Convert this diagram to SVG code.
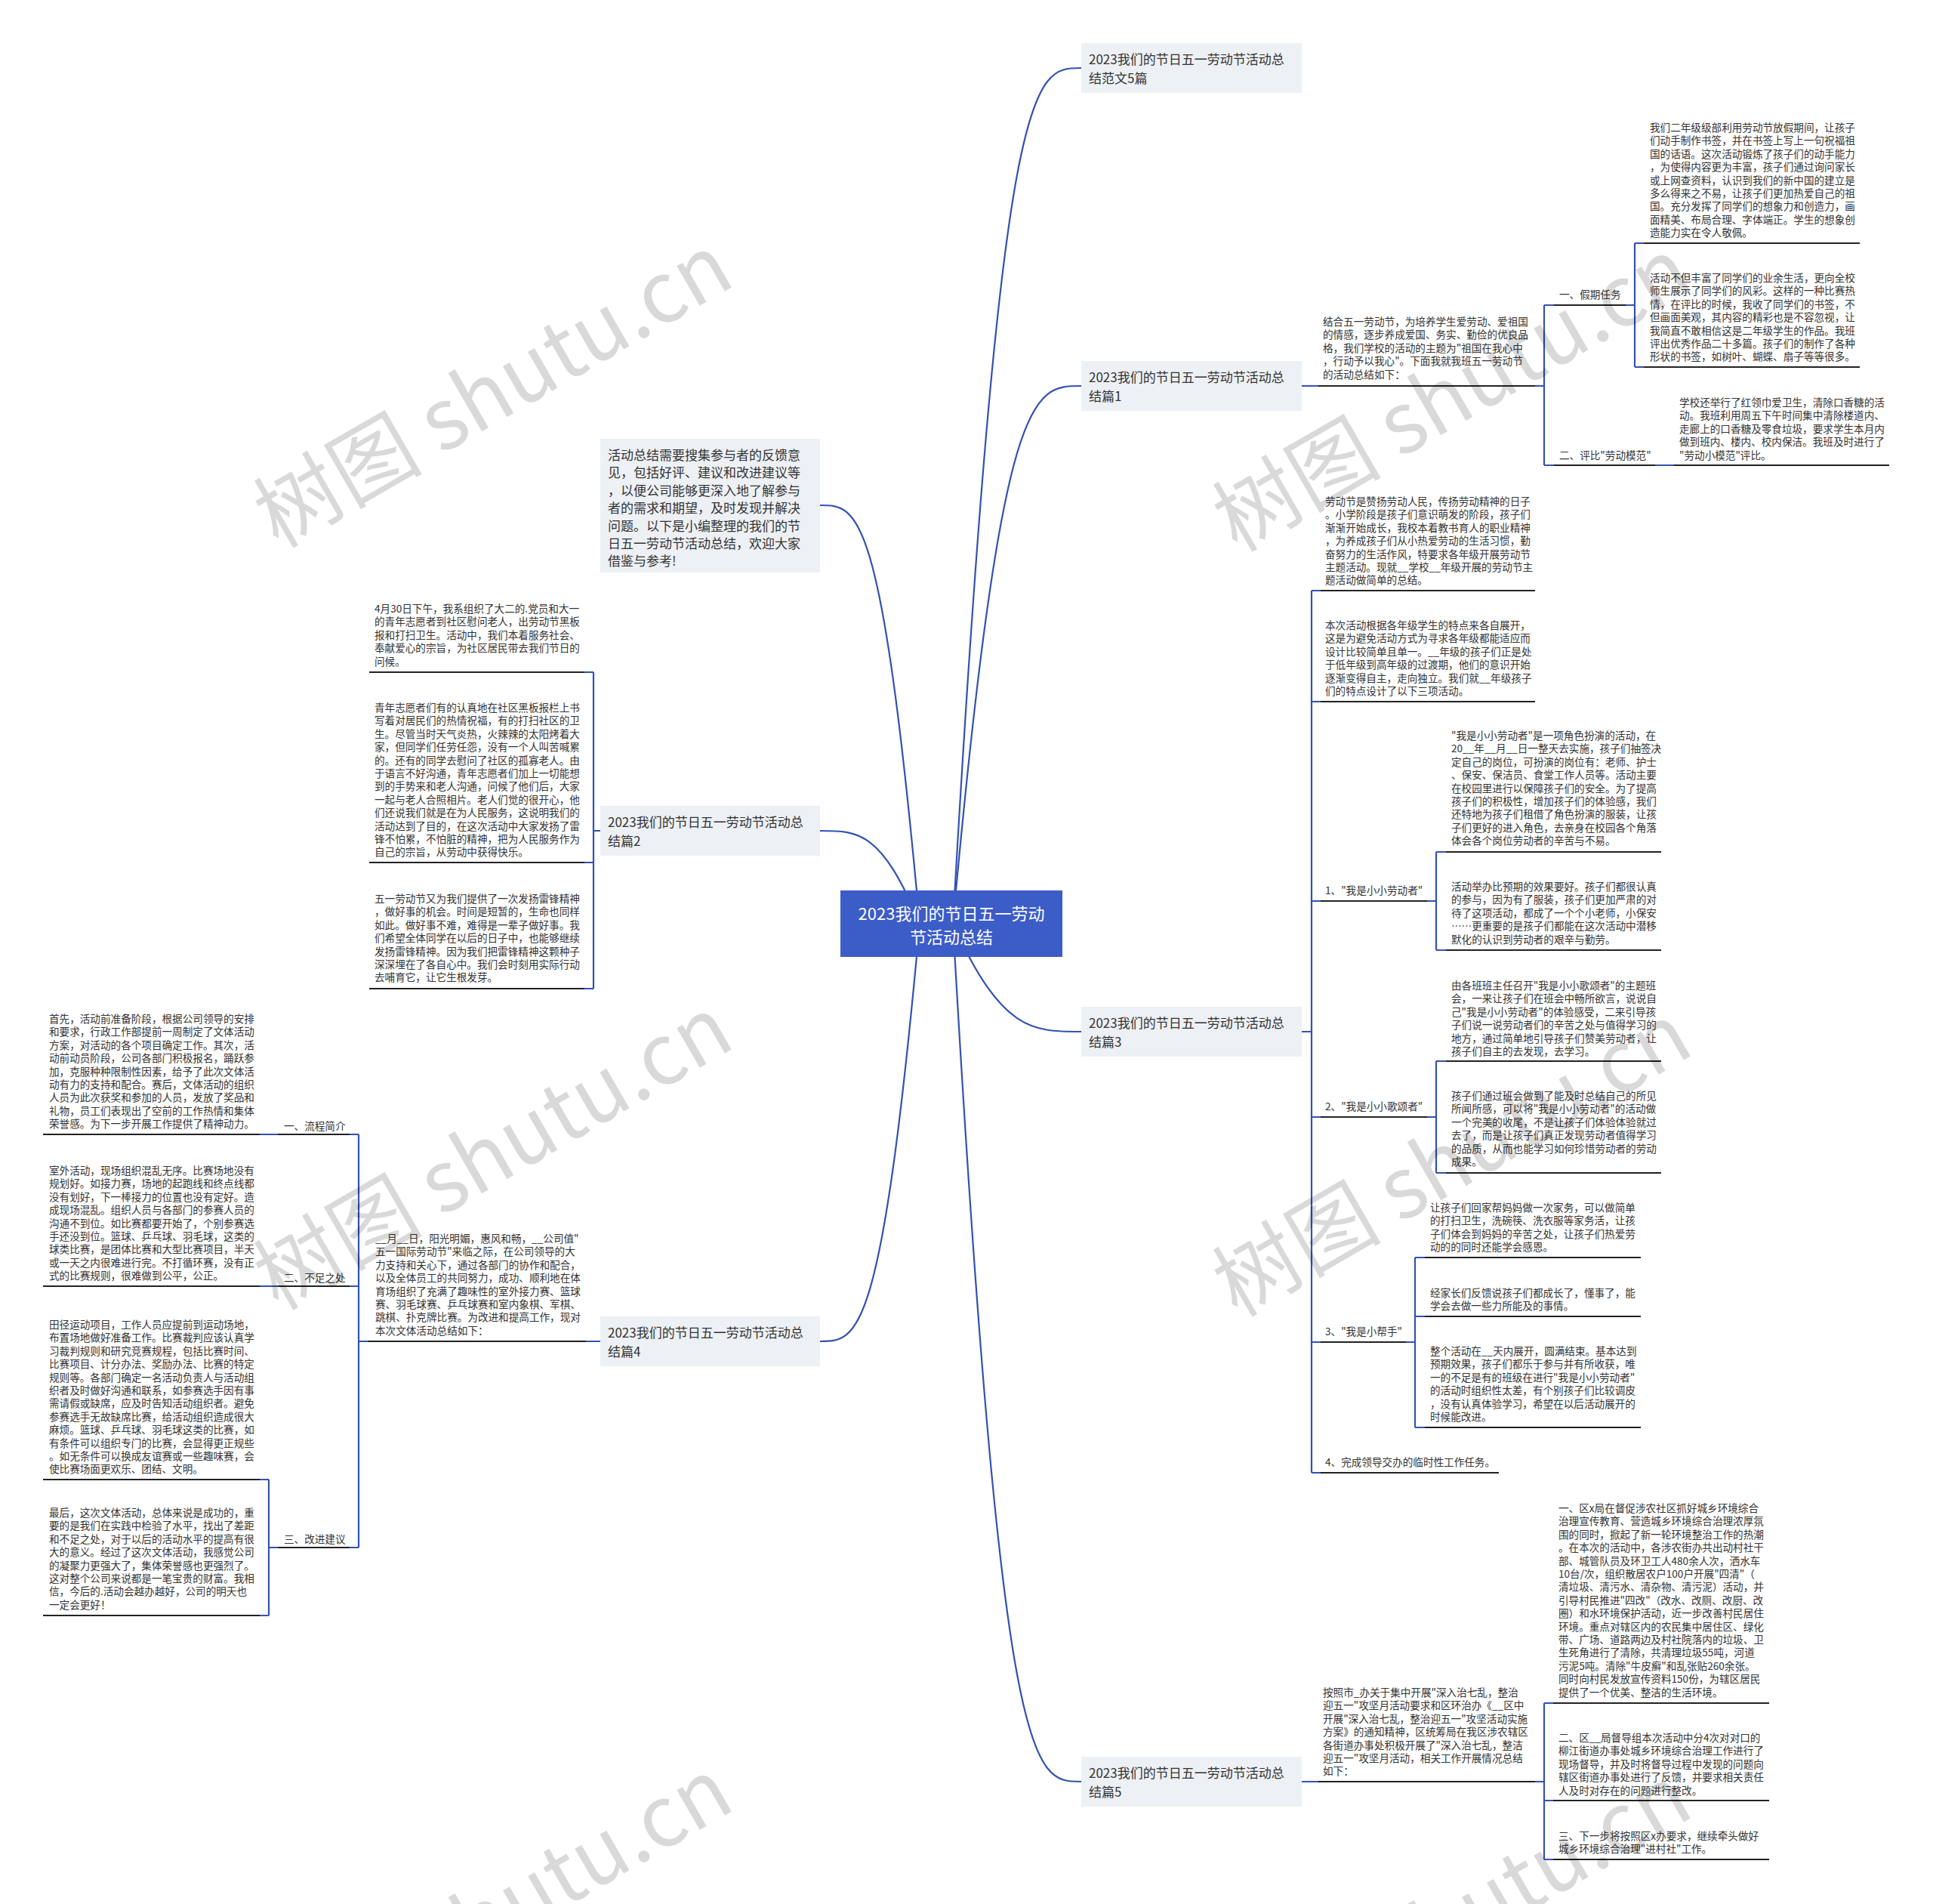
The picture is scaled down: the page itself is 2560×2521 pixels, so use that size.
<svg xmlns="http://www.w3.org/2000/svg" width="2560" height="2521" viewBox="0 0 2560 2521">
<style>
text{font-family:"Noto Sans CJK SC","Noto Sans",sans-serif;dominant-baseline:central}
.p{font-size:13.6px;fill:#333}
.n{font-size:17px;fill:#333}
.c{font-size:22px;fill:#fff}
.k{stroke:#3352b0;stroke-width:2.2;fill:none}
.u{stroke:#222;stroke-width:2;fill:none}
.nb{fill:#edf0f4}
.wm{font-size:112px;fill:#000;fill-opacity:0.15}
</style>
<rect width="2560" height="2521" fill="#fff"/>
<g id="connectors">
<path class="k" d="M1262 1223 C1326.6 90 1367.4 90 1432 90"/>
<path class="k" d="M1262 1223 C1326.6 511 1367.4 511 1432 511"/>
<path class="k" d="M1262 1223 C1326.6 1366 1367.4 1366 1432 1366"/>
<path class="k" d="M1262 1223 C1326.6 2359 1367.4 2359 1432 2359"/>
<path class="k" d="M1218 1223 C1167.8 669 1136.2 669 1086 669"/>
<path class="k" d="M1218 1223 C1167.8 1100 1136.2 1100 1086 1100"/>
<path class="k" d="M1218 1223 C1167.8 1776 1136.2 1776 1086 1776"/>
<!-- 篇1 -->
<path class="k" d="M1724 511 H1746 M2033 511 H2045 M2045 404 V616 M2045 404 H2058 M2045 616 H2058 M2153 404 H2165 M2165 322 V486 M2165 322 H2177 M2165 486 H2177 M2192 616 H2217"/>
<path class="u" d="M1746 511 H2033 M2058 404 H2153 M2177 322 H2463 M2177 486 H2463 M2058 616 H2192 M2217 616 H2502"/>
<!-- 篇3 -->
<path class="k" d="M1724 1366 H1737 M1737 782 V1950 M1737 782 H1749 M1737 929 H1749 M1737 1193 H1749 M1737 1479 H1749 M1737 1777 H1749 M1737 1950 H1749 M1890 1193 H1902 M1902 1128 V1258 M1902 1128 H1915 M1902 1258 H1915 M1890 1479 H1902 M1902 1405 V1553 M1902 1405 H1915 M1902 1553 H1915 M1862 1777 H1874 M1874 1665 V1890 M1874 1665 H1887 M1874 1743 H1887 M1874 1890 H1887"/>
<path class="u" d="M1749 782 H2033 M1749 929 H2033 M1749 1193 H1890 M1915 1128 H2200 M1915 1258 H2200 M1749 1479 H1890 M1915 1405 H2200 M1915 1553 H2200 M1749 1777 H1862 M1887 1665 H2173 M1887 1743 H2173 M1887 1890 H2173 M1749 1950 H1985"/>
<!-- 篇5 -->
<path class="k" d="M1724 2359 H1746 M2033 2359 H2045 M2045 2255 V2462 M2045 2255 H2057 M2045 2384 H2057 M2045 2462 H2057"/>
<path class="u" d="M1746 2359 H2033 M2057 2255 H2343 M2057 2384 H2343 M2057 2462 H2343"/>
<!-- 篇2 -->
<path class="k" d="M795 1100 H786 M786 890 V1309 M786 890 H774 M786 1142 H774 M786 1309 H774"/>
<path class="u" d="M489 890 H774 M489 1142 H774 M489 1309 H774"/>
<!-- 篇4 -->
<path class="k" d="M795 1776 H776 M487 1776 H475 M475 1502 V2049 M475 1502 H463 M475 1703 H463 M475 2049 H463 M368 1502 H344 M368 1703 H344 M368 2049 H356 M356 1959 V2139 M356 1959 H344 M356 2139 H344"/>
<path class="u" d="M487 1776 H776 M368 1502 H463 M368 1703 H463 M368 2049 H463 M57 1502 H344 M57 1703 H344 M57 1959 H344 M57 2139 H344"/>
</g>
<g id="center">
<rect x="1113" y="1179" width="294" height="88" fill="#3c5cc8"/>
<text class="c" text-anchor="middle"><tspan x="1260" y="1208">2023我们的节日五一劳动</tspan><tspan x="1260" y="1239">节活动总结</tspan></text>
</g>
<g id="n-fanwen">
<rect class="nb" x="1432" y="57" width="292" height="66"/>
<text class="n"><tspan x="1442" y="77">2023我们的节日五一劳动节活动总</tspan><tspan x="1442" y="102">结范文5篇</tspan></text>
</g>
<g id="n-p1">
<rect class="nb" x="1432" y="478" width="292" height="66"/>
<text class="n"><tspan x="1442" y="498">2023我们的节日五一劳动节活动总</tspan><tspan x="1442" y="523">结篇1</tspan></text>
</g>
<g id="n-p3">
<rect class="nb" x="1432" y="1333" width="292" height="66"/>
<text class="n"><tspan x="1442" y="1353">2023我们的节日五一劳动节活动总</tspan><tspan x="1442" y="1378">结篇3</tspan></text>
</g>
<g id="n-p5">
<rect class="nb" x="1432" y="2326" width="292" height="66"/>
<text class="n"><tspan x="1442" y="2346">2023我们的节日五一劳动节活动总</tspan><tspan x="1442" y="2371">结篇5</tspan></text>
</g>
<g id="n-intro">
<rect class="nb" x="795" y="581" width="291" height="177"/>
<text class="n"><tspan x="805" y="601">活动总结需要搜集参与者的反馈意</tspan><tspan x="805" dy="23.4">见，包括好评、建议和改进建议等</tspan><tspan x="805" dy="23.4">，以便公司能够更深入地了解参与</tspan><tspan x="805" dy="23.4">者的需求和期望，及时发现并解决</tspan><tspan x="805" dy="23.4">问题。以下是小编整理的我们的节</tspan><tspan x="805" dy="23.4">日五一劳动节活动总结，欢迎大家</tspan><tspan x="805" dy="23.4">借鉴与参考!</tspan></text>
</g>
<g id="n-p2">
<rect class="nb" x="795" y="1067" width="291" height="66"/>
<text class="n"><tspan x="805" y="1087">2023我们的节日五一劳动节活动总</tspan><tspan x="805" y="1112">结篇2</tspan></text>
</g>
<g id="n-p4">
<rect class="nb" x="795" y="1743" width="291" height="66"/>
<text class="n"><tspan x="805" y="1763">2023我们的节日五一劳动节活动总</tspan><tspan x="805" y="1788">结篇4</tspan></text>
</g>
<g id="p1-a">
<text class="p"><tspan x="1752" y="425">结合五一劳动节，为培养学生爱劳动、爱祖国</tspan><tspan x="1752" dy="17.4">的情感，逐步养成爱国、务实、勤俭的优良品</tspan><tspan x="1752" dy="17.4">格，我们学校的活动的主题为"祖国在我心中</tspan><tspan x="1752" dy="17.4">，行动予以我心"。下面我就我班五一劳动节</tspan><tspan x="1752" dy="17.4">的活动总结如下：</tspan></text>
</g>
<g id="p1-b"><text class="p"><tspan x="2065" y="389">一、假期任务</tspan></text></g>
<g id="p1-b1">
<text class="p"><tspan x="2185" y="168">我们二年级级部利用劳动节放假期间，让孩子</tspan><tspan x="2185" dy="17.4">们动手制作书签，并在书签上写上一句祝福祖</tspan><tspan x="2185" dy="17.4">国的话语。这次活动锻炼了孩子们的动手能力</tspan><tspan x="2185" dy="17.4">，为使得内容更为丰富，孩子们通过询问家长</tspan><tspan x="2185" dy="17.4">或上网查资料，认识到我们的新中国的建立是</tspan><tspan x="2185" dy="17.4">多么得来之不易，让孩子们更加热爱自己的祖</tspan><tspan x="2185" dy="17.4">国。充分发挥了同学们的想象力和创造力，画</tspan><tspan x="2185" dy="17.4">面精美、布局合理、字体端正。学生的想象创</tspan><tspan x="2185" dy="17.4">造能力实在令人敬佩。</tspan></text>
</g>
<g id="p1-b2">
<text class="p"><tspan x="2185" y="367">活动不但丰富了同学们的业余生活，更向全校</tspan><tspan x="2185" dy="17.4">师生展示了同学们的风彩。这样的一种比赛热</tspan><tspan x="2185" dy="17.4">情，在评比的时候，我收了同学们的书签，不</tspan><tspan x="2185" dy="17.4">但画面美观，其内容的精彩也是不容忽视，让</tspan><tspan x="2185" dy="17.4">我简直不敢相信这是二年级学生的作品。我班</tspan><tspan x="2185" dy="17.4">评出优秀作品二十多篇。孩子们的制作了各种</tspan><tspan x="2185" dy="17.4">形状的书签，如树叶、蝴蝶、扇子等等很多。</tspan></text>
</g>
<g id="p1-c"><text class="p"><tspan x="2065" y="602">二、评比"劳动模范"</tspan></text></g>
<g id="p1-c1">
<text class="p"><tspan x="2224" y="532">学校还举行了红领巾爱卫生，清除口香糖的活</tspan><tspan x="2224" dy="17.4">动。我班利用周五下午时间集中清除楼道内、</tspan><tspan x="2224" dy="17.4">走廊上的口香糖及零食垃圾，要求学生本月内</tspan><tspan x="2224" dy="17.4">做到班内、楼内、校内保洁。我班及时进行了</tspan><tspan x="2224" dy="17.4">"劳动小模范"评比。</tspan></text>
</g>
<g id="p3-a">
<text class="p"><tspan x="1755" y="663">劳动节是赞扬劳动人民，传扬劳动精神的日子</tspan><tspan x="1755" dy="17.4">。小学阶段是孩子们意识萌发的阶段，孩子们</tspan><tspan x="1755" dy="17.4">渐渐开始成长，我校本着教书育人的职业精神</tspan><tspan x="1755" dy="17.4">，为养成孩子们从小热爱劳动的生活习惯，勤</tspan><tspan x="1755" dy="17.4">奋努力的生活作风，特要求各年级开展劳动节</tspan><tspan x="1755" dy="17.4">主题活动。现就__学校__年级开展的劳动节主</tspan><tspan x="1755" dy="17.4">题活动做简单的总结。</tspan></text>
</g>
<g id="p3-b">
<text class="p"><tspan x="1755" y="827">本次活动根据各年级学生的特点来各自展开，</tspan><tspan x="1755" dy="17.4">这是为避免活动方式为寻求各年级都能适应而</tspan><tspan x="1755" dy="17.4">设计比较简单且单一。__年级的孩子们正是处</tspan><tspan x="1755" dy="17.4">于低年级到高年级的过渡期，他们的意识开始</tspan><tspan x="1755" dy="17.4">逐渐变得自主，走向独立。我们就__年级孩子</tspan><tspan x="1755" dy="17.4">们的特点设计了以下三项活动。</tspan></text>
</g>
<g id="p3-c"><text class="p"><tspan x="1755" y="1178">1、"我是小小劳动者"</tspan></text></g>
<g id="p3-c1">
<text class="p"><tspan x="1922" y="973">"我是小小劳动者"是一项角色扮演的活动，在</tspan><tspan x="1922" dy="17.4">20__年__月__日一整天去实施，孩子们抽签决</tspan><tspan x="1922" dy="17.4">定自己的岗位，可扮演的岗位有：老师、护士</tspan><tspan x="1922" dy="17.4">、保安、保洁员、食堂工作人员等。活动主要</tspan><tspan x="1922" dy="17.4">在校园里进行以保障孩子们的安全。为了提高</tspan><tspan x="1922" dy="17.4">孩子们的积极性，增加孩子们的体验感，我们</tspan><tspan x="1922" dy="17.4">还特地为孩子们租借了角色扮演的服装，让孩</tspan><tspan x="1922" dy="17.4">子们更好的进入角色，去亲身在校园各个角落</tspan><tspan x="1922" dy="17.4">体会各个岗位劳动者的辛苦与不易。</tspan></text>
</g>
<g id="p3-c2">
<text class="p"><tspan x="1922" y="1173">活动举办比预期的效果要好。孩子们都很认真</tspan><tspan x="1922" dy="17.4">的参与，因为有了服装，孩子们更加严肃的对</tspan><tspan x="1922" dy="17.4">待了这项活动，都成了一个个小老师，小保安</tspan><tspan x="1922" dy="17.4">……更重要的是孩子们都能在这次活动中潜移</tspan><tspan x="1922" dy="17.4">默化的认识到劳动者的艰辛与勤劳。</tspan></text>
</g>
<g id="p3-d"><text class="p"><tspan x="1755" y="1464">2、"我是小小歌颂者"</tspan></text></g>
<g id="p3-d1">
<text class="p"><tspan x="1922" y="1304">由各班班主任召开"我是小小歌颂者"的主题班</tspan><tspan x="1922" dy="17.4">会，一来让孩子们在班会中畅所欲言，说说自</tspan><tspan x="1922" dy="17.4">己"我是小小劳动者"的体验感受，二来引导孩</tspan><tspan x="1922" dy="17.4">子们说一说劳动者们的辛苦之处与值得学习的</tspan><tspan x="1922" dy="17.4">地方，通过简单地引导孩子们赞美劳动者，让</tspan><tspan x="1922" dy="17.4">孩子们自主的去发现，去学习。</tspan></text>
</g>
<g id="p3-d2">
<text class="p"><tspan x="1922" y="1450">孩子们通过班会做到了能及时总结自己的所见</tspan><tspan x="1922" dy="17.4">所闻所感，可以将"我是小小劳动者"的活动做</tspan><tspan x="1922" dy="17.4">一个完美的收尾，不是让孩子们体验体验就过</tspan><tspan x="1922" dy="17.4">去了，而是让孩子们真正发现劳动者值得学习</tspan><tspan x="1922" dy="17.4">的品质，从而也能学习如何珍惜劳动者的劳动</tspan><tspan x="1922" dy="17.4">成果。</tspan></text>
</g>
<g id="p3-e"><text class="p"><tspan x="1755" y="1762">3、"我是小帮手"</tspan></text></g>
<g id="p3-e1">
<text class="p"><tspan x="1894" y="1598">让孩子们回家帮妈妈做一次家务，可以做简单</tspan><tspan x="1894" dy="17.4">的打扫卫生，洗碗筷、洗衣服等家务活，让孩</tspan><tspan x="1894" dy="17.4">子们体会到妈妈的辛苦之处，让孩子们热爱劳</tspan><tspan x="1894" dy="17.4">动的的同时还能学会感恩。</tspan></text>
</g>
<g id="p3-e2">
<text class="p"><tspan x="1894" y="1711">经家长们反馈说孩子们都成长了，懂事了，能</tspan><tspan x="1894" dy="17.4">学会去做一些力所能及的事情。</tspan></text>
</g>
<g id="p3-e3">
<text class="p"><tspan x="1894" y="1788">整个活动在__天内展开，圆满结束。基本达到</tspan><tspan x="1894" dy="17.4">预期效果，孩子们都乐于参与并有所收获，唯</tspan><tspan x="1894" dy="17.4">一的不足是有的班级在进行"我是小小劳动者"</tspan><tspan x="1894" dy="17.4">的活动时组织性太差，有个别孩子们比较调皮</tspan><tspan x="1894" dy="17.4">，没有认真体验学习，希望在以后活动展开的</tspan><tspan x="1894" dy="17.4">时候能改进。</tspan></text>
</g>
<g id="p3-f"><text class="p"><tspan x="1755" y="1935">4、完成领导交办的临时性工作任务。</tspan></text></g>
<g id="p5-a">
<text class="p"><tspan x="1752" y="2240">按照市_办关于集中开展"深入治七乱，整治</tspan><tspan x="1752" dy="17.4">迎五一"攻坚月活动要求和区环治办《__区中</tspan><tspan x="1752" dy="17.4">开展"深入治七乱，整治迎五一"攻坚活动实施</tspan><tspan x="1752" dy="17.4">方案》的通知精神，区统筹局在我区涉农辖区</tspan><tspan x="1752" dy="17.4">各街道办事处积极开展了"深入治七乱，整洁</tspan><tspan x="1752" dy="17.4">迎五一"攻坚月活动，相关工作开展情况总结</tspan><tspan x="1752" dy="17.4">如下：</tspan></text>
</g>
<g id="p5-b">
<text class="p"><tspan x="2064" y="1996">一、区x局在督促涉农社区抓好城乡环境综合</tspan><tspan x="2064" dy="17.4">治理宣传教育、营造城乡环境综合治理浓厚氛</tspan><tspan x="2064" dy="17.4">围的同时，掀起了新一轮环境整治工作的热潮</tspan><tspan x="2064" dy="17.4">。在本次的活动中，各涉农街办共出动村社干</tspan><tspan x="2064" dy="17.4">部、城管队员及环卫工人480余人次，洒水车</tspan><tspan x="2064" dy="17.4">10台/次，组织散居农户100户开展"四清"（</tspan><tspan x="2064" dy="17.4">清垃圾、清污水、清杂物、清污泥）活动，并</tspan><tspan x="2064" dy="17.4">引导村民推进"四改"（改水、改厕、改厨、改</tspan><tspan x="2064" dy="17.4">圈）和水环境保护活动，近一步改善村民居住</tspan><tspan x="2064" dy="17.4">环境。重点对辖区内的农民集中居住区、绿化</tspan><tspan x="2064" dy="17.4">带、广场、道路两边及村社院落内的垃圾、卫</tspan><tspan x="2064" dy="17.4">生死角进行了清除，共清理垃圾55吨，河道</tspan><tspan x="2064" dy="17.4">污泥5吨。清除"牛皮癣"和乱张贴260余张。</tspan><tspan x="2064" dy="17.4">同时向村民发放宣传资料150份，为辖区居民</tspan><tspan x="2064" dy="17.4">提供了一个优美、整洁的生活环境。</tspan></text>
</g>
<g id="p5-c">
<text class="p"><tspan x="2064" y="2300">二、区__局督导组本次活动中分4次对对口的</tspan><tspan x="2064" dy="17.4">柳江街道办事处城乡环境综合治理工作进行了</tspan><tspan x="2064" dy="17.4">现场督导，并及时将督导过程中发现的问题向</tspan><tspan x="2064" dy="17.4">辖区街道办事处进行了反馈，并要求相关责任</tspan><tspan x="2064" dy="17.4">人及时对存在的问题进行整改。</tspan></text>
</g>
<g id="p5-d">
<text class="p"><tspan x="2064" y="2430">三、下一步将按照区x办要求，继续牵头做好</tspan><tspan x="2064" dy="17.4">城乡环境综合治理"进村社"工作。</tspan></text>
</g>
<g id="p2-a">
<text class="p"><tspan x="496" y="805">4月30日下午，我系组织了大二的.党员和大一</tspan><tspan x="496" dy="17.4">的青年志愿者到社区慰问老人，出劳动节黑板</tspan><tspan x="496" dy="17.4">报和打扫卫生。活动中，我们本着服务社会、</tspan><tspan x="496" dy="17.4">奉献爱心的宗旨，为社区居民带去我们节日的</tspan><tspan x="496" dy="17.4">问候。</tspan></text>
</g>
<g id="p2-b">
<text class="p"><tspan x="496" y="936">青年志愿者们有的认真地在社区黑板报栏上书</tspan><tspan x="496" dy="17.4">写着对居民们的热情祝福，有的打扫社区的卫</tspan><tspan x="496" dy="17.4">生。尽管当时天气炎热，火辣辣的太阳烤着大</tspan><tspan x="496" dy="17.4">家，但同学们任劳任怨，没有一个人叫苦喊累</tspan><tspan x="496" dy="17.4">的。还有的同学去慰问了社区的孤寡老人。由</tspan><tspan x="496" dy="17.4">于语言不好沟通，青年志愿者们加上一切能想</tspan><tspan x="496" dy="17.4">到的手势来和老人沟通，问候了他们后，大家</tspan><tspan x="496" dy="17.4">一起与老人合照相片。老人们觉的很开心，他</tspan><tspan x="496" dy="17.4">们还说我们就是在为人民服务，这说明我们的</tspan><tspan x="496" dy="17.4">活动达到了目的，在这次活动中大家发扬了雷</tspan><tspan x="496" dy="17.4">锋不怕累，不怕脏的精神，把为人民服务作为</tspan><tspan x="496" dy="17.4">自己的宗旨，从劳动中获得快乐。</tspan></text>
</g>
<g id="p2-c">
<text class="p"><tspan x="496" y="1189">五一劳动节又为我们提供了一次发扬雷锋精神</tspan><tspan x="496" dy="17.4">，做好事的机会。时间是短暂的，生命也同样</tspan><tspan x="496" dy="17.4">如此。做好事不难，难得是一辈子做好事。我</tspan><tspan x="496" dy="17.4">们希望全体同学在以后的日子中，也能够继续</tspan><tspan x="496" dy="17.4">发扬雷锋精神。因为我们把雷锋精神这颗种子</tspan><tspan x="496" dy="17.4">深深埋在了各自心中。我们会时刻用实际行动</tspan><tspan x="496" dy="17.4">去哺育它，让它生根发芽。</tspan></text>
</g>
<g id="p4-a">
<text class="p"><tspan x="497" y="1639">__月__日，阳光明媚，惠风和畅，__公司值"</tspan><tspan x="497" dy="17.4">五一国际劳动节"来临之际，在公司领导的大</tspan><tspan x="497" dy="17.4">力支持和关心下，通过各部门的协作和配合，</tspan><tspan x="497" dy="17.4">以及全体员工的共同努力，成功、顺利地在体</tspan><tspan x="497" dy="17.4">育场组织了充满了趣味性的室外接力赛、篮球</tspan><tspan x="497" dy="17.4">赛、羽毛球赛、乒乓球赛和室内象棋、军棋、</tspan><tspan x="497" dy="17.4">跳棋、扑克牌比赛。为改进和提高工作，现对</tspan><tspan x="497" dy="17.4">本次文体活动总结如下：</tspan></text>
</g>
<g id="p4-b"><text class="p"><tspan x="376" y="1490">一、流程简介</tspan></text></g>
<g id="p4-b1">
<text class="p"><tspan x="65" y="1348">首先，活动前准备阶段，根据公司领导的安排</tspan><tspan x="65" dy="17.4">和要求，行政工作部提前一周制定了文体活动</tspan><tspan x="65" dy="17.4">方案，对活动的各个项目确定工作。其次，活</tspan><tspan x="65" dy="17.4">动前动员阶段，公司各部门积极报名，踊跃参</tspan><tspan x="65" dy="17.4">加，克服种种限制性因素，给予了此次文体活</tspan><tspan x="65" dy="17.4">动有力的支持和配合。赛后，文体活动的组织</tspan><tspan x="65" dy="17.4">人员为此次获奖和参加的人员，发放了奖品和</tspan><tspan x="65" dy="17.4">礼物，员工们表现出了空前的工作热情和集体</tspan><tspan x="65" dy="17.4">荣誉感。为下一步开展工作提供了精神动力。</tspan></text>
</g>
<g id="p4-c"><text class="p"><tspan x="376" y="1691">二、不足之处</tspan></text></g>
<g id="p4-c1">
<text class="p"><tspan x="65" y="1549">室外活动，现场组织混乱无序。比赛场地没有</tspan><tspan x="65" dy="17.4">规划好。如接力赛，场地的起跑线和终点线都</tspan><tspan x="65" dy="17.4">没有划好，下一棒接力的位置也没有定好。造</tspan><tspan x="65" dy="17.4">成现场混乱。组织人员与各部门的参赛人员的</tspan><tspan x="65" dy="17.4">沟通不到位。如比赛都要开始了，个别参赛选</tspan><tspan x="65" dy="17.4">手还没到位。篮球、乒乓球、羽毛球，这类的</tspan><tspan x="65" dy="17.4">球类比赛，是团体比赛和大型比赛项目，半天</tspan><tspan x="65" dy="17.4">或一天之内很难进行完。不打循环赛，没有正</tspan><tspan x="65" dy="17.4">式的比赛规则，很难做到公平，公正。</tspan></text>
</g>
<g id="p4-d"><text class="p"><tspan x="376" y="2037">三、改进建议</tspan></text></g>
<g id="p4-d1">
<text class="p"><tspan x="65" y="1753">田径运动项目，工作人员应提前到运动场地，</tspan><tspan x="65" dy="17.4">布置场地做好准备工作。比赛裁判应该认真学</tspan><tspan x="65" dy="17.4">习裁判规则和研究竞赛规程，包括比赛时间、</tspan><tspan x="65" dy="17.4">比赛项目、计分办法、奖励办法、比赛的特定</tspan><tspan x="65" dy="17.4">规则等。各部门确定一名活动负责人与活动组</tspan><tspan x="65" dy="17.4">织者及时做好沟通和联系，如参赛选手因有事</tspan><tspan x="65" dy="17.4">需请假或缺席，应及时告知活动组织者。避免</tspan><tspan x="65" dy="17.4">参赛选手无故缺席比赛，给活动组织造成很大</tspan><tspan x="65" dy="17.4">麻烦。篮球、乒乓球、羽毛球这类的比赛，如</tspan><tspan x="65" dy="17.4">有条件可以组织专门的比赛，会显得更正规些</tspan><tspan x="65" dy="17.4">。如无条件可以换成友谊赛或一些趣味赛，会</tspan><tspan x="65" dy="17.4">使比赛场面更欢乐、团结、文明。</tspan></text>
</g>
<g id="p4-d2">
<text class="p"><tspan x="65" y="2002">最后，这次文体活动，总体来说是成功的，重</tspan><tspan x="65" dy="17.4">要的是我们在实践中检验了水平，找出了差距</tspan><tspan x="65" dy="17.4">和不足之处，对于以后的活动水平的提高有很</tspan><tspan x="65" dy="17.4">大的意义。经过了这次文体活动，我感觉公司</tspan><tspan x="65" dy="17.4">的凝聚力更强大了，集体荣誉感也更强烈了。</tspan><tspan x="65" dy="17.4">这对整个公司来说都是一笔宝贵的财富。我相</tspan><tspan x="65" dy="17.4">信，今后的.活动会越办越好，公司的明天也</tspan><tspan x="65" dy="17.4">一定会更好！</tspan></text>
</g>
<g id="watermarks">
<text class="wm" text-anchor="middle" transform="translate(648 509) rotate(-30)">树图 shutu.cn</text>
<text class="wm" text-anchor="middle" transform="translate(1918 514) rotate(-30)">树图 shutu.cn</text>
<text class="wm" text-anchor="middle" transform="translate(648 1518) rotate(-30)">树图 shutu.cn</text>
<text class="wm" text-anchor="middle" transform="translate(1918 1527) rotate(-30)">树图 shutu.cn</text>
<text class="wm" text-anchor="middle" transform="translate(648 2527) rotate(-30)">树图 shutu.cn</text>
<text class="wm" text-anchor="middle" transform="translate(1918 2536) rotate(-30)">树图 shutu.cn</text>
</g>
</svg>
